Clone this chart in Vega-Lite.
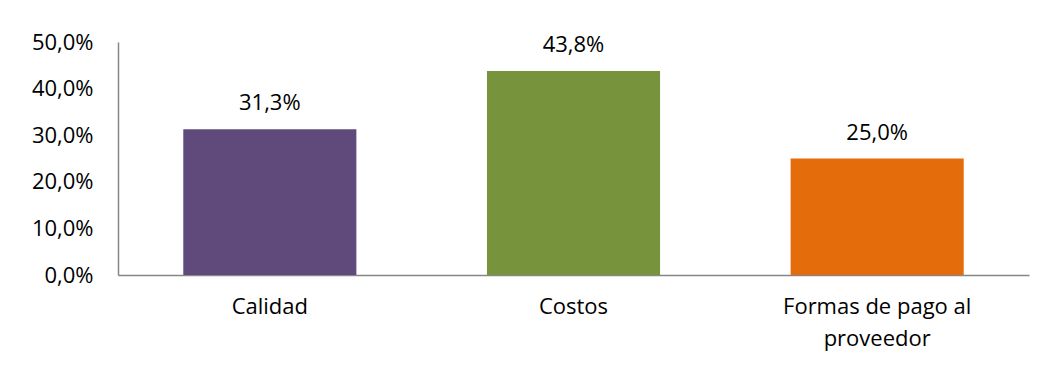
{
  "$schema": "https://vega.github.io/schema/vega-lite/v6.json",
  "autosize": "none",
  "width": 911,
  "height": 233,
  "padding": {"left": 118, "top": 42, "right": 27, "bottom": 97},
  "background": "white",
  "config": {
    "view": {"stroke": null},
    "locale": {"number": {"decimal": ",", "thousands": ".", "grouping": [3], "currency": ["", " €"]}},
    "font": "Open Sans"
  },
  "data": {
    "values": [
      {"categoria": "Calidad", "valor": 0.313},
      {"categoria": "Costos", "valor": 0.438},
      {"categoria": "Formas de pago al proveedor", "valor": 0.25}
    ]
  },
  "encoding": {
    "x": {
      "field": "categoria",
      "type": "nominal",
      "sort": null,
      "scale": {"paddingInner": 0.43, "paddingOuter": 0.215},
      "axis": {
        "title": null,
        "labelAngle": 0,
        "ticks": false,
        "domainColor": "#868686",
        "domainWidth": 1.5,
        "labelFont": "Open Sans",
        "labelFontSize": 22,
        "labelColor": "#000000",
        "labelPadding": 21,
        "labelLineHeight": 32,
        "labelLimit": 400,
        "labelExpr": "datum.value == 'Formas de pago al proveedor' ? ['Formas de pago al', 'proveedor'] : datum.value"
      }
    },
    "y": {
      "field": "valor",
      "type": "quantitative",
      "scale": {"domain": [0, 0.5], "nice": false},
      "axis": {
        "title": null,
        "format": ".1%",
        "values": [0, 0.1, 0.2, 0.3, 0.4, 0.5],
        "grid": false,
        "ticks": false,
        "domainColor": "#868686",
        "domainWidth": 1.5,
        "labelFont": "Open Sans",
        "labelFontSize": 22,
        "labelColor": "#000000",
        "labelPadding": 25
      }
    }
  },
  "layer": [
    {
      "mark": {"type": "bar"},
      "encoding": {
        "color": {
          "field": "categoria",
          "type": "nominal",
          "sort": null,
          "scale": {"range": ["#604A7B", "#77933C", "#E46C0A"]},
          "legend": null
        }
      }
    },
    {
      "mark": {"type": "text", "baseline": "bottom", "dy": -14, "font": "Open Sans", "fontSize": 22, "color": "#000000"},
      "encoding": {
        "text": {"field": "valor", "type": "quantitative", "format": ".1%"}
      }
    }
  ]
}
